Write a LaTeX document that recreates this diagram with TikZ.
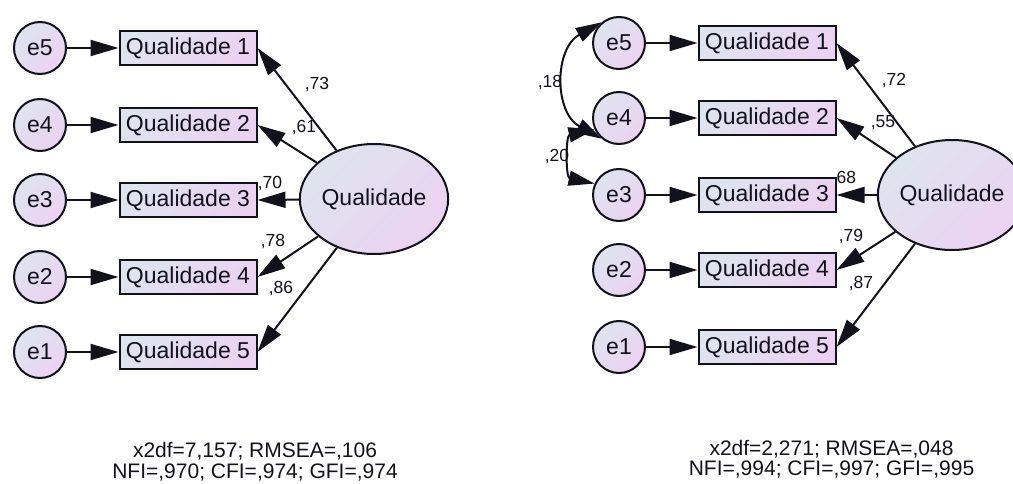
\documentclass[tikz,border=0pt]{standalone}
\usepackage{fontspec}
\setmainfont{Liberation Sans}
\usetikzlibrary{arrows.meta,shapes.geometric}

\definecolor{shadeA}{RGB}{222,228,238}
\definecolor{shadeB}{RGB}{236,210,242}
\definecolor{ink}{RGB}{18,18,28}

\newcommand\mainsz{\fontsize{23}{27}\selectfont}
\newcommand\coefsz{\fontsize{17.5}{20}\selectfont}
\newcommand\gofsz{\fontsize{21}{24}\selectfont}

\tikzset{
  grad/.style={top color=shadeA, bottom color=shadeB, shading angle=45},
  errc/.style={circle, draw=ink, line width=2pt, minimum size=52pt,
    inner sep=0pt, grad, font=\mainsz, text=ink},
  obs/.style={rectangle, draw=ink, line width=2pt, minimum width=137pt,
    minimum height=34pt, inner sep=0pt, grad, font=\mainsz, text=ink},
  lat/.style={ellipse, draw=ink, line width=2pt, minimum width=144pt,
    minimum height=110pt, inner sep=0pt, grad, font=\mainsz, text=ink},
  reg/.style={draw=ink, line width=2pt,
    -{Triangle[length=28pt,width=16pt]}},
  cov/.style={draw=ink, line width=2pt,
    {Triangle[length=26pt,width=15pt]}-{Triangle[length=26pt,width=15pt]}},
  coef/.style={font=\coefsz, text=ink, inner sep=0pt},
  gof/.style={font=\gofsz, text=ink, inner sep=0pt, anchor=base}
}

\begin{document}
\begin{tikzpicture}[x=1pt,y=1pt]
\useasboundingbox (0,0) rectangle (1013,483);

% ---------- model 1: loadings (drawn first, boxes sit on top) ----------
\node[coef] (l73) at (317,398) {,73};
\node[coef] (l61) at (304,355) {,61};
\node[coef] (l70) at (270,299) {,70};
\node[coef] (l78) at (273,241) {,78};
\node[coef] (l86) at (281,194) {,86};

% indicators
\node[obs] (lq1) at (188,435) {Qualidade 1};
\node[obs] (lq2) at (188,358) {Qualidade 2};
\node[obs] (lq3) at (188,283) {Qualidade 3};
\node[obs] (lq4) at (188,206) {Qualidade 4};
\node[obs] (lq5) at (188,131) {Qualidade 5};

% error terms
\node[errc] (le5) at (40,435) {e5};
\node[errc] (le4) at (40,358) {e4};
\node[errc] (le3) at (40,283) {e3};
\node[errc] (le2) at (40,206) {e2};
\node[errc] (le1) at (40,131) {e1};

% latent factor
\node[lat] (lf) at (374,284) {Qualidade};

\draw[reg] (le5.east) -- (lq1.west);
\draw[reg] (le4.east) -- (lq2.west);
\draw[reg] (le3.east) -- (lq3.west);
\draw[reg] (le2.east) -- (lq4.west);
\draw[reg] (le1.east) -- (lq5.west);

\draw[reg] (lf) -- (lq1.east);
\draw[reg] (lf) -- (lq2.east);
\draw[reg] (lf) -- (lq3.east);
\draw[reg] (lf) -- (lq4.east);
\draw[reg] (lf) -- (lq5.east);

\node[gof] (lfitA) at (255,26) {x2df=7,157; RMSEA=,106};
\node[gof] (lfitB) at (255,5) {NFI=,970; CFI=,974; GFI=,974};

% ---------- model 2: with correlated errors ----------
\node[coef] (r72) at (894,402) {,72};
\node[coef] (r55) at (883,360) {,55};
\node[coef] (r68) at (844,304) {,68};
\node[coef] (r79) at (851,246) {,79};
\node[coef] (r87) at (861,199) {,87};
\node[coef] (r18) at (550,400) {,18};
\node[coef] (r20) at (557,326) {,20};

\node[obs] (rq1) at (767,440) {Qualidade 1};
\node[obs] (rq2) at (767,365) {Qualidade 2};
\node[obs] (rq3) at (767,288) {Qualidade 3};
\node[obs] (rq4) at (767,213) {Qualidade 4};
\node[obs] (rq5) at (767,136) {Qualidade 5};

\node[errc] (re5) at (619,440) {e5};
\node[errc] (re4) at (619,365) {e4};
\node[errc] (re3) at (619,288) {e3};
\node[errc] (re2) at (619,213) {e2};
\node[errc] (re1) at (619,136) {e1};

\node[lat] (rf) at (952,288) {Qualidade};

\draw[reg] (re5.east) -- (rq1.west);
\draw[reg] (re4.east) -- (rq2.west);
\draw[reg] (re3.east) -- (rq3.west);
\draw[reg] (re2.east) -- (rq4.west);
\draw[reg] (re1.east) -- (rq5.west);

\draw[reg] (rf) -- (rq1.east);
\draw[reg] (rf) -- (rq2.east);
\draw[reg] (rf) -- (rq3.east);
\draw[reg] (rf) -- (rq4.east);
\draw[reg] (rf) -- (rq5.east);

% error covariances
\draw[cov] (re5.130) to[bend right=61, looseness=1.2] (re4.230);
\draw[cov] (re4.205) to[bend right=78, looseness=1.4] (re3.155);

\node[gof] (rfitA) at (831.5,28) {x2df=2,271; RMSEA=,048};
\node[gof] (rfitB) at (831.5,8) {NFI=,994; CFI=,997; GFI=,995};

\end{tikzpicture}
\end{document}
